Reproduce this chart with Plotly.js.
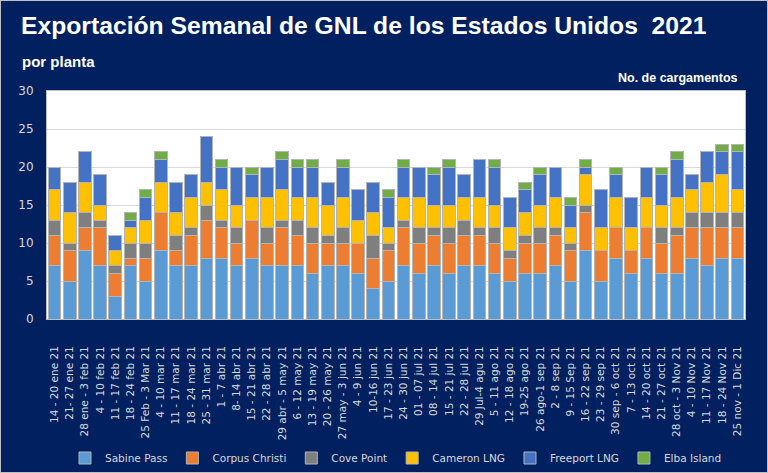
<!DOCTYPE html>
<html>
<head>
<meta charset="utf-8">
<script src="https://cdn.plot.ly/plotly-3.0.1.min.js"></script>
<style>
  html, body { margin: 0; padding: 0; background: #ffffff; }
  #frame { width: 766px; height: 471px; border: 1px solid #bfbfbf; }
  #chart { width: 766px; height: 471px; }
</style>
</head>
<body>
<div id="frame"><div id="chart"></div></div>
<script>
  const weeks = [
    '14 - 20 ene 21', '21- 27 ene 21', '28 ene - 3 feb 21', '4 - 10 feb 21', '11 - 17 feb 21',
    '18 - 24 feb 21', '25 Feb - 3 Mar 21', '4 - 10 mar 21', '11 - 17 mar 21', '18 - 24 mar 21',
    '25 - 31 mar 21', '1 - 7 abr 21', '8- 14 abr 21', '15 - 21 abr 21', '22 - 28 abr 21',
    '29 abr - 5 may 21', '6 - 12 may 21', '13 - 19 may 21', '20 - 26 may 21', '27 may - 3 jun 21',
    '4 - 9 jun 21', '10-16 jun 21', '17 - 23 jun 21', '24 - 30 jun 21', '01 - 07 jul 21',
    '08 - 14 jul 21', '15 - 21 jul 21', '22 - 28 jul 21', '29 Jul-4 agu 21', '5 - 11 ago 21',
    '12 - 18 ago 21', '19-25 ago 21', '26 ago-1 sep 21', '2 - 8 sep 21', '9 - 15 Sep 21',
    '16 - 22 sep 21', '23 - 29 sep 21', '30 sep - 6 oct 21', '7 - 13 oct 21', '14 - 20 oct 21',
    '21 - 27 oct 21', '28 oct - 3 Nov 21', '4 - 10 Nov 21', '11 - 17 Nov 21', '18 - 24 Nov 21',
    '25 nov - 1 Dic 21'
  ];

  const sabinePass    = [7, 5, 9, 7, 3, 7, 5, 9, 7, 7, 8, 8, 7, 8, 7, 7, 7, 6, 7, 7, 6, 4, 5, 7, 6, 7, 6, 7, 7, 6, 5, 6, 6, 7, 5, 9, 5, 8, 6, 8, 6, 6, 8, 7, 8, 8];
  const corpusChristi = [4, 4, 3, 5, 3, 1, 3, 5, 2, 4, 5, 4, 3, 5, 3, 5, 4, 4, 3, 3, 4, 4, 4, 5, 4, 4, 4, 4, 4, 4, 3, 4, 4, 4, 4, 5, 4, 4, 3, 4, 4, 5, 4, 5, 4, 4];
  const covePoint     = [2, 1, 2, 1, 1, 2, 2, 0, 2, 1, 2, 1, 2, 0, 2, 1, 2, 2, 1, 2, 0, 3, 1, 1, 2, 1, 2, 2, 1, 2, 1, 1, 2, 1, 1, 1, 0, 0, 0, 0, 2, 1, 2, 2, 2, 2];
  const cameronLng    = [4, 4, 4, 2, 2, 2, 3, 4, 3, 4, 3, 4, 3, 3, 4, 4, 3, 4, 4, 4, 3, 3, 2, 3, 4, 3, 3, 3, 4, 3, 3, 3, 3, 4, 2, 4, 3, 4, 3, 4, 3, 4, 3, 4, 5, 3];
  const freeportLng   = [3, 4, 4, 4, 2, 1, 3, 3, 4, 3, 6, 3, 5, 3, 4, 4, 4, 4, 3, 4, 4, 4, 4, 4, 4, 4, 5, 3, 5, 5, 4, 3, 4, 4, 3, 1, 5, 3, 4, 4, 4, 5, 2, 4, 3, 5];
  const elbaIsland    = [0, 0, 0, 0, 0, 1, 1, 1, 0, 0, 0, 1, 0, 1, 0, 1, 1, 1, 0, 1, 0, 0, 1, 1, 0, 1, 1, 0, 0, 1, 0, 1, 1, 0, 1, 1, 0, 1, 0, 0, 1, 1, 0, 0, 1, 1];

  const plants = [
    { name: 'Sabine Pass', values: sabinePass, color: '#5b9bd5' },
    { name: 'Corpus Christi', values: corpusChristi, color: '#ed7d31' },
    { name: 'Cove Point', values: covePoint, color: '#7f7f7f' },
    { name: 'Cameron LNG', values: cameronLng, color: '#ffc000' },
    { name: 'Freeport LNG', values: freeportLng, color: '#4472c4' },
    { name: 'Elba Island', values: elbaIsland, color: '#70ad47' }
  ];

  const navy = '#002060';
  const lightText = '#d9d9d9';
  const boldFont = 'Liberation Sans, Arial, sans-serif';

  const traces = plants.map((plant) => ({
    type: 'bar',
    name: plant.name,
    x: weeks,
    y: plant.values,
    marker: { color: plant.color, line: { color: '#b4b4b4', width: 1 } },
    hoverinfo: 'x+y+name'
  }));

  const layout = {
    width: 766,
    height: 471,
    paper_bgcolor: navy,
    plot_bgcolor: '#ffffff',
    margin: { l: 46, r: 22, t: 90, b: 153, autoexpand: false },
    barmode: 'stack',
    bargap: 0.17,
    font: { family: 'DejaVu Sans, sans-serif', color: lightText },
    title: {
      text: 'Exportación Semanal de GNL de los Estados Unidos \u00a02021',
      font: { family: boldFont, size: 24.7, color: '#ffffff', weight: 'bold' },
      xref: 'container', x: 20 / 766, xanchor: 'left',
      yref: 'container', y: 1 - 16 / 471, yanchor: 'top'
    },
    annotations: [
      {
        text: '<b>por planta</b>',
        xref: 'paper', yref: 'paper', x: -27 / 698, y: 1 + 29 / 228,
        xanchor: 'left', yanchor: 'middle', showarrow: false,
        font: { family: boldFont, size: 15, color: '#ffffff' }
      },
      {
        text: '<b>No. de cargamentos</b>',
        xref: 'paper', yref: 'paper', x: 1 - 5 / 698, y: 1 + 13 / 228,
        xanchor: 'right', yanchor: 'middle', showarrow: false,
        font: { family: boldFont, size: 12.5, color: '#ffffff' }
      }
    ],
    xaxis: {
      type: 'category',
      automargin: false,
      tickangle: -90,
      tickfont: { size: 10.5, color: lightText },
      ticks: '',
      ticklabelstandoff: 22,
      showline: true, linecolor: '#bfbfbf', linewidth: 1, mirror: true,
      fixedrange: true
    },
    yaxis: {
      range: [0, 30],
      dtick: 5,
      automargin: false,
      tickfont: { size: 12, color: lightText },
      ticks: '',
      ticklabelstandoff: 10,
      gridcolor: '#d9d9d9', gridwidth: 1,
      zeroline: false,
      showline: true, linecolor: '#bfbfbf', linewidth: 1, mirror: true,
      fixedrange: true
    },
    showlegend: true,
    legend: {
      orientation: 'h',
      x: 0.5, xanchor: 'center',
      y: -139 / 228, yanchor: 'middle',
      font: { size: 10.5, color: lightText },
      itemwidth: 30,
      traceorder: 'normal',
      bgcolor: 'rgba(0,0,0,0)'
    }
  };

  Plotly.newPlot('chart', traces, layout, { displayModeBar: false, staticPlot: true });
</script>
</body>
</html>
